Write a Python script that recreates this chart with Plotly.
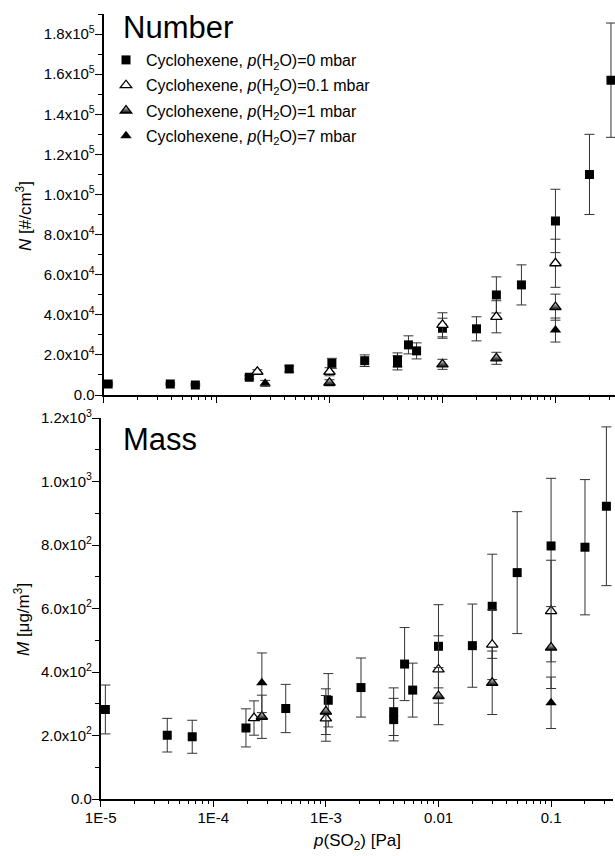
import plotly.graph_objects as go

# ---------------- data ----------------
x_sq = [1.1e-5, 3.9e-5, 6.5e-5, 1.95e-4, 4.4e-4, 1.05e-3, 2.05e-3, 4.0e-3, 4.0e-3,
        5.0e-3, 5.9e-3, 0.01, 0.02, 0.03, 0.05, 0.1, 0.2, 0.31]
N_sq = [5.5e3, 5.5e3, 5.0e3, 8.8e3, 13.0e3, 15.8e3, 17.1e3, 17.5e3, 16.0e3,
        25.0e3, 22.0e3, 33.3e3, 33.0e3, 49.9e3, 54.9e3, 86.8e3, 110e3, 157e3]
N_sq_err = [500, 500, 500, 800, 1500, 2500, 2900, 3500, 3500,
            4500, 4000, 5000, 6000, 9000, 10000, 15800, 20000, 28500]
M_sq = [282, 201, 196, 224, 285, 311, 351, 275, 250,
        425, 343, 481, 483, 607, 713, 797, 793, 922]
M_sq_err = [77, 53, 52, 60, 76, 84, 93, 75, 67,
            115, 85, 131, 131, 164, 192, 213, 213, 250]

x_o01 = [2.3e-4, 1e-3, 0.01, 0.03, 0.1]
N_o01 = [11.6e3, 11.6e3, 35e3, 39e3, 65.7e3]
N_o01_err = [1000, 2000, 6000, 8000, 12000]
M_o01 = [255, 254, 408, 486, 592]
M_o01_err = [54, 72, 106, 110, 160]

x_h1_N = [1e-3, 0.01, 0.03, 0.1]
N_h1 = [6.1e3, 15.3e3, 18.3e3, 43.8e3]
N_h1_err = [1500, 2500, 3000, 6500]
x_h1_M = [2.7e-4, 1e-3, 0.01, 0.03, 0.1]
M_h1 = [259, 275, 324, 366, 477]
M_h1_err = [68, 72, 90, 100, 129]

x_f7 = [2.7e-4, 0.1]
N_f7 = [5.8e3, 32.4e3]
N_f7_err = [1500, 6000]
M_f7 = [366, 303]
M_f7_err = [94, 81]

series_names = [
    "Cyclohexene, <i>p</i>(H<sub>2</sub>O)=0 mbar",
    "Cyclohexene, <i>p</i>(H<sub>2</sub>O)=0.1 mbar",
    "Cyclohexene, <i>p</i>(H<sub>2</sub>O)=1 mbar",
    "Cyclohexene, <i>p</i>(H<sub>2</sub>O)=7 mbar",
]

N_tickvals = [0, 2e4, 4e4, 6e4, 8e4, 1e5, 1.2e5, 1.4e5, 1.6e5, 1.8e5]
N_ticktext = ["0.0", "2.0x10<sup>4</sup>", "4.0x10<sup>4</sup>", "6.0x10<sup>4</sup>",
              "8.0x10<sup>4</sup>", "1.0x10<sup>5</sup>", "1.2x10<sup>5</sup>",
              "1.4x10<sup>5</sup>", "1.6x10<sup>5</sup>", "1.8x10<sup>5</sup>"]
M_tickvals = [0, 200, 400, 600, 800, 1000, 1200]
M_ticktext = ["0.0", "2.0x10<sup>2</sup>", "4.0x10<sup>2</sup>", "6.0x10<sup>2</sup>",
              "8.0x10<sup>2</sup>", "1.0x10<sup>3</sup>", "1.2x10<sup>3</sup>"]
x_tickvals = [1e-5, 1e-4, 1e-3, 1e-2, 1e-1]
x_ticktext = ["1E-5", "1E-4", "1E-3", "0.01", "0.1"]

# ---------------- figure ----------------
W, H = 615, 856
FONT = "Liberation Sans, Arial, sans-serif"
ERRC = "#333333"

styles = [
    dict(symbol="square", size=9, color="black", line=dict(width=0)),
    dict(symbol="triangle-up", size=10, color="white", line=dict(width=1.3, color="black")),
    dict(symbol="triangle-up", size=10, color="white", line=dict(width=1.3, color="black"),
         gradient=dict(type="vertical", color="black")),
    dict(symbol="triangle-up", size=10, color="black", line=dict(width=0)),
]

top_sets = [(x_sq, N_sq, N_sq_err), (x_o01, N_o01, N_o01_err),
            (x_h1_N, N_h1, N_h1_err), (x_f7, N_f7, N_f7_err)]
bot_sets = [(x_sq, M_sq, M_sq_err), (x_o01, M_o01, M_o01_err),
            (x_h1_M, M_h1, M_h1_err), (x_f7, M_f7, M_f7_err)]

fig = go.Figure()
for i, (xs, ys, es) in enumerate(top_sets):
    fig.add_trace(go.Scatter(
        x=xs, y=ys, mode="markers", name=series_names[i], legendgroup=f"g{i}",
        marker=styles[i],
        error_y=dict(type="data", array=es, color=ERRC, thickness=1, width=5),
        xaxis="x", yaxis="y", showlegend=True))
for i, (xs, ys, es) in enumerate(bot_sets):
    fig.add_trace(go.Scatter(
        x=xs, y=ys, mode="markers", name=series_names[i], legendgroup=f"g{i}",
        marker=styles[i],
        error_y=dict(type="data", array=es, color=ERRC, thickness=1, width=5),
        xaxis="x2", yaxis="y2", showlegend=False))

def px_x(p):
    return p / W

def px_y(p):
    return 1 - p / H

minor_x = [m * 10 ** e for e in range(-5, 0) for m in range(2, 10)]

axis_common = dict(showline=True, linecolor="black", linewidth=1.6, ticks="outside",
                   tickcolor="black", tickwidth=1.3, showgrid=False, zeroline=False,
                   tickfont=dict(family=FONT, size=15, color="black"))

fig.update_layout(
    width=W, height=H, paper_bgcolor="white", plot_bgcolor="white",
    margin=dict(l=0, r=0, t=0, b=0, autoexpand=False),
    font=dict(family=FONT, color="black"),
    xaxis=dict(type="log", domain=[px_x(103.5), 1.0], range=[-5, -0.473], anchor="y",
               tickvals=x_tickvals, ticktext=x_ticktext, showticklabels=False, ticklen=6,
               minor=dict(tickvals=minor_x, ticks="outside", ticklen=3.5, tickcolor="black", tickwidth=1.2),
               **axis_common),
    yaxis=dict(domain=[px_y(395), px_y(14)], range=[0, 1.9e5], anchor="x",
               tickvals=N_tickvals, ticktext=N_ticktext, ticklen=7, ticklabelstandoff=-3,
               minor=dict(dtick=1e4, tick0=0, ticks="outside", ticklen=4, tickcolor="black", tickwidth=1.2),
               **axis_common),
    xaxis2=dict(type="log", domain=[px_x(100.7), px_x(613)], range=[-5, -0.45], anchor="y2",
                tickvals=x_tickvals, ticktext=x_ticktext, ticklen=6, ticklabelstandoff=-2,
                minor=dict(tickvals=minor_x, ticks="outside", ticklen=3.5, tickcolor="black", tickwidth=1.2),
                **axis_common),
    yaxis2=dict(domain=[px_y(799), px_y(418)], range=[0, 1200], anchor="x2",
                tickvals=M_tickvals, ticktext=M_ticktext, ticklen=7, ticklabelstandoff=-3,
                minor=dict(dtick=100, tick0=0, ticks="outside", ticklen=4, tickcolor="black", tickwidth=1.2),
                **axis_common),
    legend=dict(x=px_x(106), y=px_y(43), xanchor="left", yanchor="top",
                bgcolor="rgba(0,0,0,0)", borderwidth=0, tracegroupgap=1.5,
                font=dict(family=FONT, size=16, color="black"),
                itemsizing="trace"),
    showlegend=True,
)

annos = [
    dict(text="Number", x=px_x(121), y=px_y(28), xanchor="left", yanchor="middle",
         font=dict(size=31)),
    dict(text="Mass", x=px_x(121), y=px_y(439), xanchor="left", yanchor="middle",
         font=dict(size=31)),
    dict(text="<i>N</i> [#/cm<sup>3</sup>]", x=px_x(24), y=px_y(216), textangle=-90,
         xanchor="center", yanchor="middle", font=dict(size=17)),
    dict(text="<i>M</i> [μg/m<sup>3</sup>]", x=px_x(22), y=px_y(620), textangle=-90,
         xanchor="center", yanchor="middle", font=dict(size=17)),
    dict(text="<i>p</i>(SO<sub>2</sub>) [Pa]", x=px_x(357), y=px_y(842),
         xanchor="center", yanchor="middle", font=dict(size=17)),
]
for a in annos:
    a.update(xref="paper", yref="paper", showarrow=False)
    a["font"].update(family=FONT, color="black")
    fig.add_annotation(**a)

fig.write_html(
    "out.html",
    config={"displayModeBar": False},
    post_script="document.body.style.margin='0';document.body.style.padding='0';"
                "document.body.style.overflow='hidden';",
)
